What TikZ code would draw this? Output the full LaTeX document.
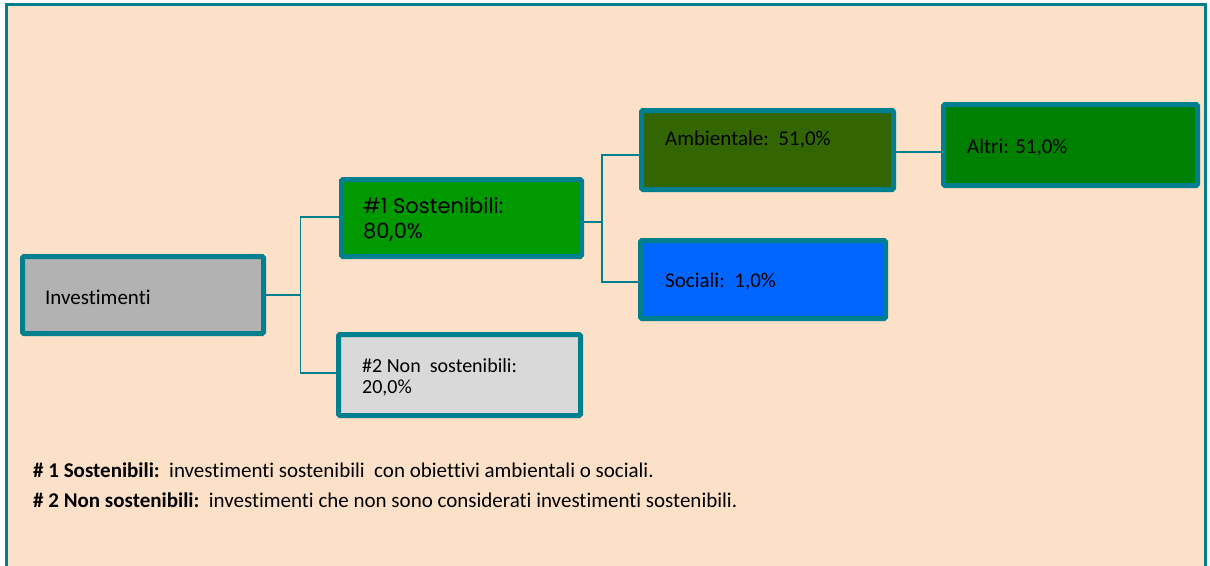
\documentclass[tikz,border=0pt]{standalone}
\usepackage{fontspec}
\setmainfont{Carlito}[Ligatures=NoCommon]
\newfontfamily\geofont{Poppins}
\definecolor{teal}{RGB}{0,128,142}
\definecolor{peach}{RGB}{253,224,200}
\definecolor{invgray}{RGB}{178,178,178}
\definecolor{susgreen}{RGB}{0,153,0}
\definecolor{ambgreen}{RGB}{51,102,0}
\definecolor{altgreen}{RGB}{0,128,0}
\definecolor{socblue}{RGB}{0,102,255}
\definecolor{nsgray}{RGB}{217,217,217}
\begin{document}
\begin{tikzpicture}[x=1pt,y=-1pt,
  boxstyle/.style={draw=teal,line width=5pt,rounded corners=1.5pt,inner sep=0pt},
  conn/.style={draw=teal,line width=1.5pt},
  lbl/.style={anchor=west,inner sep=0pt,align=left,text=black,font=\fontsize{21}{25}\selectfont}]
\useasboundingbox (0,0) rectangle (1210,565);
\fill[white] (0,0) rectangle (1210,565);
\draw[draw=teal,fill=peach,line width=2.5pt] (6.5,580) -- (6.5,4.5) -- (1205.5,4.5) -- (1205.5,580);
% boxes
\node[boxstyle,fill=invgray,minimum width=241pt,minimum height=77pt] (inv) at (143,295) {};
\node[boxstyle,fill=susgreen,minimum width=240pt,minimum height=77pt] (s1) at (461.5,218) {};
\node[boxstyle,fill=ambgreen,minimum width=252pt,minimum height=79pt] (amb) at (767.5,150) {};
\node[boxstyle,fill=altgreen,minimum width=254pt,minimum height=81pt] (alt) at (1070.5,145) {};
\node[boxstyle,fill=socblue,minimum width=245pt,minimum height=78pt] (soc) at (763,279.5) {};
\node[boxstyle,fill=nsgray,minimum width=242pt,minimum height=81pt] (ns) at (459.5,375) {};
% labels
\node[lbl] (tinv) at (45,297) {Investimenti};
\node[lbl,font=\geofont\fontsize{21}{25}\selectfont] (ts1) at (363,219.5) {\#1 Sostenibili:\\80,0\%};
\node[lbl] (tamb) at (665,140) {Ambientale:\ \ 51,0\%};
\node[lbl] (talt) at (967,148) {Altri: 51,0\%};
\node[lbl] (tsoc) at (665,282) {Sociali:\ \ 1,0\%};
\node[lbl,font=\fontsize{20}{21.5}\selectfont] (tns) at (362,377.5) {\#2 Non\ \ sostenibili:\\20,0\%};
% connectors
\coordinate (j1) at (300.5,295);
\coordinate (j2) at (602,218);
\draw[conn] (inv.east) -- (j1);
\draw[conn] ([yshift=1pt]s1.west) -| (j1) |- ([yshift=2pt]ns.west);
\draw[conn] ([yshift=-4pt]s1.east) -| (j2);
\draw[conn] ([yshift=-5pt]amb.west) -| (j2) |- ([yshift=-2.5pt]soc.west);
\draw[conn] ([yshift=-2pt]amb.east) -- ([yshift=-2pt]amb.east -| alt.west);
% footer
\node[lbl,font=\fontsize{21}{25}\selectfont] (f1) at (33,470) {\textbf{\# 1 Sostenibili:}\ \ investimenti sostenibili\ \ con obiettivi ambientali o sociali.};
\node[lbl,font=\fontsize{21}{25}\selectfont] (f2) at (33,500) {\textbf{\# 2 Non sostenibili:}\ \ investimenti che non sono considerati investimenti sostenibili.};
\end{tikzpicture}
\end{document}
